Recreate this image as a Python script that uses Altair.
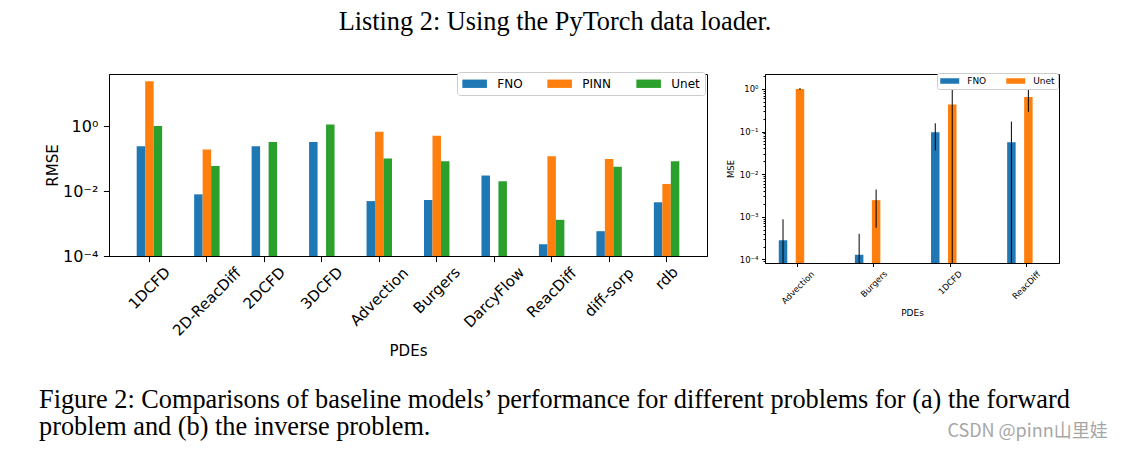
import altair as alt
import pandas as pd

# ---------------- text ----------------
HEADER = "Listing 2: Using the PyTorch data loader."
CAPTION = ("Figure 2: Comparisons of baseline models\u2019 performance for different problems for (a) the forward\n"
           "problem and (b) the inverse problem.")
WATERMARK = "CSDN @pinn山里娃"

# ---------------- (a) forward problem ----------------
pdes = ["1DCFD", "2D-ReacDiff", "2DCFD", "3DCFD", "Advection", "Burgers",
        "DarcyFlow", "ReacDiff", "diff-sorp", "rdb"]
models_fwd = ["FNO", "PINN", "Unet"]
colors_fwd = ["#1f77b4", "#ff7f0e", "#2ca02c"]
fno_rmse = [0.24, 0.0079, 0.237, 0.32, 0.0049, 0.0053, 0.030, 0.00023, 0.00058, 0.0045]
pinn_rmse = [24.0, 0.19, None, None, 0.67, 0.50, None, 0.117, 0.097, 0.0165]
unet_rmse = [1.0, 0.059, 0.32, 1.12, 0.10, 0.083, 0.020, 0.0013, 0.056, 0.083]
fwd_ticks = [1e-4, 1e-2, 1]

# ---------------- (b) inverse problem ----------------
pdes_inv = ["Advection", "Burgers", "1DCFD", "ReacDiff"]
models_inv = ["FNO", "Unet"]
colors_inv = ["#1f77b4", "#ff7f0e"]
fno_mse = [2.8e-4, 1.28e-4, 0.096, 0.056]
fno_mse_err = [5.9e-4, 2.7e-4, 0.06, 0.115]
unet_mse = [1.0, 2.45e-3, 0.43, 0.65]
unet_mse_err = [0.05, 1.9e-3, 1.1, 0.36]
inv_ticks = [m * d for d in [1e-5, 1e-4, 1e-3, 1e-2, 1e-1, 1] for m in range(1, 10)]

FWD_MIN, FWD_MAX = 1e-4, 40
INV_MIN, INV_MAX = 8.2e-5, 2.24

fwd = pd.DataFrame({
    "PDE": pdes * 3,
    "model": [m for m in models_fwd for _ in pdes],
    "value": fno_rmse + pinn_rmse + unet_rmse,
}).dropna()

inv = pd.DataFrame({
    "PDE": pdes_inv * 2,
    "model": [m for m in models_inv for _ in pdes_inv],
    "value": fno_mse + unet_mse,
    "err": fno_mse_err + unet_mse_err,
})
inv["lo"] = (inv["value"] - inv["err"]).clip(lower=1e-6)
inv["hi"] = inv["value"] + inv["err"]

FONT = "DejaVu Sans"
SERIF = "Liberation Serif"


def sup_label(v="datum.value"):
    e = f"('' + round(log({v}) / LN10))"
    for a, b in [("-", "⁻"), ("0", "⁰"), ("1", "¹"), ("2", "²"), ("3", "³"), ("4", "⁴"), ("5", "⁵")]:
        e = f"replace({e}, '{a}', '{b}')"
    return "'10' + " + e


DECADE = "abs(log(datum.value) / LN10 - round(log(datum.value) / LN10)) < 1e-6"


def rot_pad(fs, gap):
    w = ("(length(datum.label) * 0.61"
         " + length(replace(datum.label, regexp('[^A-Z]', 'g'), '')) * 0.1"
         " - length(replace(datum.label, regexp('[^ilftr-]', 'g'), '')) * 0.25)")
    return {"expr": f"{gap} + 0.3536 * {fs} * ({w} + 0.9)"}


# ---------------- left chart: (a) forward problem ----------------
FS_L = 15
bars_l = alt.Chart(fwd).mark_bar().encode(
    x=alt.X("PDE:N", sort=pdes, title="PDEs",
            scale=alt.Scale(paddingInner=0.557, paddingOuter=0.482),
            axis=alt.Axis(labelAngle=-45, labelAlign="center", labelBaseline="middle",
                          labelPadding=rot_pad(FS_L, 3), labelFontSize=FS_L, titleFontSize=FS_L,
                          labelOverlap=False, tickSize=5.6, titlePadding=5,
                          titleFontWeight="normal")),
    xOffset=alt.XOffset("model:N", scale=alt.Scale(domain=models_fwd, paddingInner=0, paddingOuter=0)),
    y=alt.Y("value:Q", title="RMSE",
            scale=alt.Scale(type="log", domain=[FWD_MIN, FWD_MAX]),
            axis=alt.Axis(values=fwd_ticks, labelExpr=sup_label(), tickSize=5.6, labelPadding=5.6,
                          labelFontSize=FS_L + 1, titleFontSize=FS_L, titleFontWeight="normal",
                          titlePadding=2, labelOverlap=False, grid=False)),
    y2=alt.datum(FWD_MIN),
    color=alt.Color("model:N", scale=alt.Scale(domain=models_fwd, range=colors_fwd),
                    legend=alt.Legend(orient="none", legendX=348, legendY=-2, direction="horizontal",
                                      columns=3, title=None,
                                      symbolType="M-1,-0.68H3V0.68H-1Z", symbolSize=151,
                                      symbolStrokeWidth=0, labelFontSize=12, labelOffset=22.3,
                                      columnPadding=24, padding=5, fillColor="white",
                                      strokeColor="#cccccc", cornerRadius=3, labelFont=FONT,
                                      labelColor="black")),
)

# page texts, placed relative to the left plot's origin
header_t = alt.Chart(pd.DataFrame({"t": [HEADER]})).mark_text(
    font=SERIF, fontSize=26.3, align="center", baseline="alphabetic", color="black"
).encode(text="t:N", x=alt.value(446), y=alt.value(-44))
caption_t = alt.Chart(pd.DataFrame({"t": [CAPTION]})).mark_text(
    font=SERIF, fontSize=26.3, align="left", baseline="alphabetic", color="black",
    lineBreak="\n", lineHeight=27
).encode(text="t:N", x=alt.value(-70), y=alt.value(334))
wm_t = alt.Chart(pd.DataFrame({"t": [WATERMARK]})).mark_text(
    font="Noto Sans CJK SC", fontSize=18, align="right", baseline="alphabetic", color="#a6a6a6"
).encode(text="t:N", x=alt.value(998.7), y=alt.value(362.5))

left = alt.layer(bars_l, header_t, caption_t, wm_t).properties(
    width=598, height=182, view=alt.ViewBackground(stroke="black", strokeWidth=1))

# ---------------- right chart: (b) inverse problem ----------------
FS_R = 8.5
base_r = alt.Chart(inv)
x_r = alt.X("PDE:N", sort=pdes_inv, title="PDEs",
            scale=alt.Scale(paddingInner=0.5, paddingOuter=0.181),
            axis=alt.Axis(labelAngle=-45, labelAlign="center", labelBaseline="middle",
                          labelPadding=rot_pad(FS_R, 2.5), labelFontSize=FS_R, titleFontSize=FS_R + 0.5,
                          labelOverlap=False, tickSize=3.5, titlePadding=3,
                          titleFontWeight="normal"))
xo_r = alt.XOffset("model:N", scale=alt.Scale(domain=models_inv, paddingInner=0, paddingOuter=0))
y_scale_r = alt.Scale(type="log", domain=[INV_MIN, INV_MAX])
bars_r = base_r.mark_bar().encode(
    x=x_r, xOffset=xo_r,
    y=alt.Y("value:Q", title="MSE", scale=y_scale_r,
            axis=alt.Axis(values=inv_ticks, labelExpr=f"{DECADE} ? {sup_label()} : ''",
                          tickSize={"condition": {"test": DECADE, "value": 3.5}, "value": 2},
                          labelPadding=3.5, labelFontSize=FS_R, titleFontSize=FS_R,
                          titleFontWeight="normal", titlePadding=4, labelOverlap=False, grid=False)),
    y2=alt.datum(INV_MIN),
    color=alt.Color("model:N", scale=alt.Scale(domain=models_inv, range=colors_inv),
                    legend=alt.Legend(orient="none", legendX=172, legendY=-1, direction="horizontal",
                                      columns=2, title=None,
                                      symbolType="M-1,-0.58H3V0.58H-1Z", symbolSize=90,
                                      symbolStrokeWidth=0, labelFontSize=9, labelOffset=17.2,
                                      columnPadding=19, padding=3, fillColor="white",
                                      strokeColor="#cccccc", cornerRadius=2, labelFont=FONT,
                                      labelColor="black")),
)
err_r = base_r.mark_rule(color="black", strokeWidth=1, clip=True).encode(
    x=x_r, xOffset=xo_r,
    y=alt.Y("lo:Q", scale=y_scale_r),
    y2="hi:Q",
)
right = alt.layer(bars_r, err_r).properties(
    width=294, height=189, view=alt.ViewBackground(stroke="black", strokeWidth=1))

chart = alt.hconcat(left, right, spacing=58, bounds="flush").resolve_scale(
    color="independent"
).properties(
    padding={"left": 30, "top": 0, "right": 0, "bottom": 0}
).configure(font=FONT).configure_axis(
    labelFont=FONT, titleFont=FONT, labelColor="black", titleColor="black",
    domainColor="black", tickColor="black", domainWidth=1, tickWidth=1
)

chart.save("out.html", embed_options={"renderer": "svg", "actions": False})
